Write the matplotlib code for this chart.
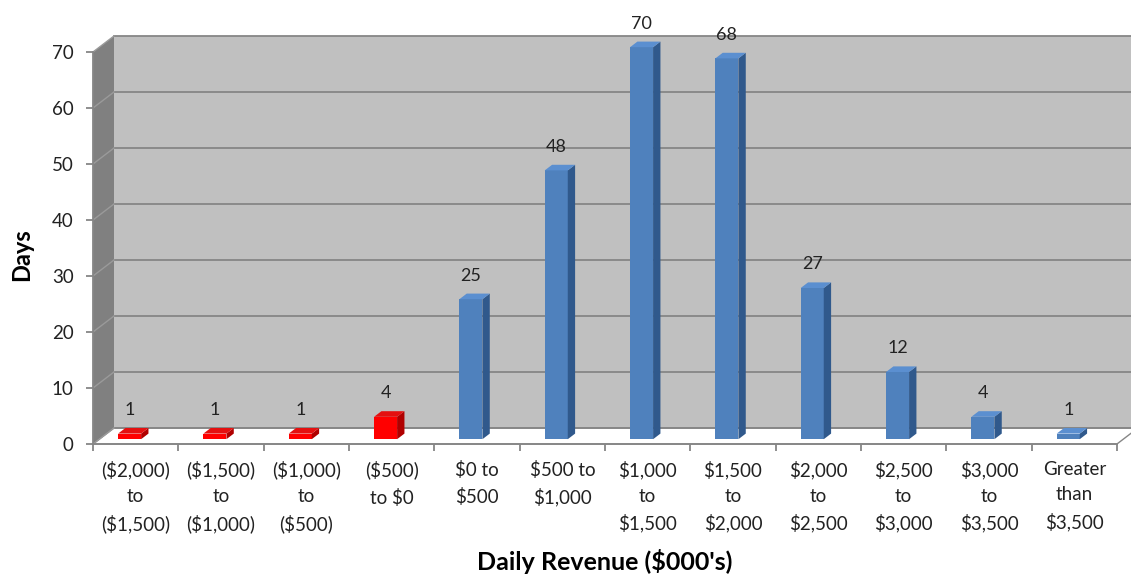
import matplotlib.pyplot as plt
from matplotlib.patches import Polygon

# Histogram of daily revenue (Excel-style 3-D column chart)
CATEGORIES = ["($2,000)\nto\n($1,500)", "($1,500)\nto\n($1,000)", "($1,000)\nto\n($500)",
              "($500)\nto $0", "$0 to\n$500", "$500 to\n$1,000", "$1,000\nto\n$1,500",
              "$1,500\nto\n$2,000", "$2,000\nto\n$2,500", "$2,500\nto\n$3,000",
              "$3,000\nto\n$3,500", "Greater\nthan\n$3,500"]
DAYS = [1, 1, 1, 4, 25, 48, 70, 68, 27, 12, 4, 1]
IS_LOSS = [True, True, True, True, False, False, False, False, False, False, False, False]
Y_TICKS = [0, 10, 20, 30, 40, 50, 60, 70]

FONT = "Lato"
GRID = "#868686"
WALL = "#c0c0c0"
SIDE_WALL = "#808080"
BLUE = ("#4f81bd", "#30598c", "#5b8fd0")   # front, side, top
RED = ("#ff0000", "#b00000", "#e41010")

# depth of the plot box in data units (x: categories, y: days)
DDX, DDY = 0.246, 2.86
F0, F1 = 0.30, 0.65     # bar front / back depth fraction
BAR_L, BAR_W = 0.22, 0.27


def proj(x, y, f):
    return (x + f * DDX, y + f * DDY)


fig = plt.figure(figsize=(11.31, 5.76), dpi=100)
ax = fig.add_axes([0, 0, 1, 1])
ax.set_xlim(-93 / 85.33, (1131 - 93) / 85.33)
ax.set_ylim(-(576 - 444) / 5.6, 444 / 5.6)
ax.patch.set_visible(False)

n = len(DAYS)
ymax = Y_TICKS[-1]

# walls and floor
ax.add_patch(Polygon([proj(0, 0, 1), proj(n, 0, 1), proj(n, ymax, 1), proj(0, ymax, 1)],
                     closed=True, fc=WALL, ec="none", zorder=1))
ax.add_patch(Polygon([proj(0, 0, 0), proj(0, 0, 1), proj(0, ymax, 1), proj(0, ymax, 0)],
                     closed=True, fc=SIDE_WALL, ec="none", zorder=1))
ax.add_patch(Polygon([proj(0, 0, 0), proj(n, 0, 0), proj(n, 0, 1), proj(0, 0, 1)],
                     closed=True, fc="white", ec=GRID, lw=1.0, zorder=1))

for k in Y_TICKS:
    pts = [proj(0, k, 0), proj(0, k, 1), proj(n, k, 1)]
    ax.plot([p[0] for p in pts[1:]], [p[1] for p in pts[1:]], color=GRID, lw=1.3, zorder=2)
    ax.plot([p[0] for p in pts[:2]], [p[1] for p in pts[:2]], color="#9a9a9a", lw=1.0, zorder=2)

# bars
for i, (v, loss) in enumerate(zip(DAYS, IS_LOSS)):
    front, side, top = RED if loss else BLUE
    x0, x1 = i + BAR_L, i + BAR_L + BAR_W
    ax.add_patch(Polygon([proj(x0, 0, F0), proj(x1, 0, F0), proj(x1, v, F0), proj(x0, v, F0)],
                         closed=True, fc=front, ec="none", zorder=3))
    ax.add_patch(Polygon([proj(x1, 0, F0), proj(x1, 0, F1), proj(x1, v, F1), proj(x1, v, F0)],
                         closed=True, fc=side, ec="none", zorder=3))
    ax.add_patch(Polygon([proj(x0, v, F0), proj(x1, v, F0), proj(x1, v, F1), proj(x0, v, F1)],
                         closed=True, fc=top, ec="none", zorder=3))
    cx, cy = proj((x0 + x1) / 2, v, F0)
    ax.annotate(str(v), xy=(cx, cy), xytext=(0, 17), textcoords="offset points",
                ha="center", va="center", fontsize=13, family=FONT, color="#222222")

# axes as spines placed on the front plane
for s in ("top", "right"):
    ax.spines[s].set_visible(False)
ax.spines["left"].set_position(("data", 0))
ax.spines["bottom"].set_position(("data", 0))
ax.spines["left"].set_bounds(0, ymax)
ax.spines["bottom"].set_bounds(0, n)
ax.spines["left"].set_color(GRID)
ax.spines["bottom"].set_color(GRID)
ax.spines["left"].set_linewidth(1.3)
ax.spines["bottom"].set_linewidth(1.3)

ax.set_yticks(Y_TICKS, [str(t) for t in Y_TICKS])
ax.tick_params(axis="y", length=5, width=1.3, color=GRID, pad=9, labelsize=13.5,
               labelcolor="#222222")
ax.set_xticks(range(n + 1), [""] * (n + 1))
ax.set_xticks([i + 0.5 for i in range(n)], CATEGORIES, minor=True)
ax.tick_params(axis="x", which="major", length=5, width=1.3, color=GRID)
ax.tick_params(axis="x", which="minor", length=0, pad=12, labelsize=13.5,
               labelcolor="#222222")
for lab in ax.get_xticklabels(minor=True):
    lab.set_family(FONT)
    lab.set_linespacing(1.6)
    lab.set_va("top")
for lab in ax.get_yticklabels():
    lab.set_family(FONT)

ax.text(-0.832, 33.75, "Days", rotation=90, ha="center", va="center",
        fontsize=17, fontweight="bold", family=FONT)
ax.text(6.0, -21.0, "Daily Revenue ($000's)", ha="center", va="center",
        fontsize=18, fontweight="bold", family=FONT)

fig.savefig("out.png", dpi=100)
